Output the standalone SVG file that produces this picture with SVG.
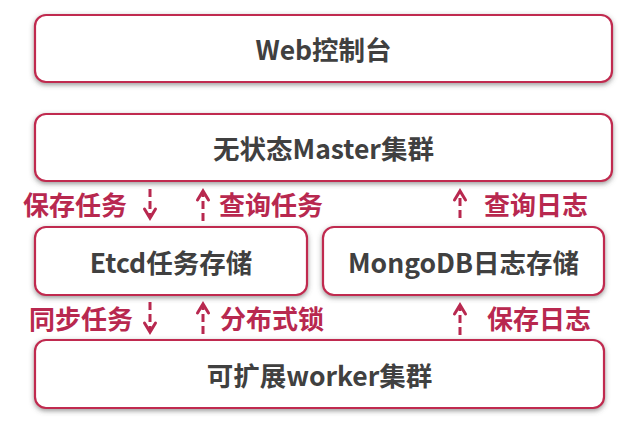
<svg xmlns="http://www.w3.org/2000/svg" width="639" height="422" viewBox="0 0 639 422">
<defs>
<filter id="sh" x="-10%" y="-30%" width="120%" height="160%">
<feDropShadow dx="0" dy="2" stdDeviation="2.5" flood-color="#555" flood-opacity="0.6"/>
</filter>
</defs>
<style>
.box{fill:#fff;stroke:#c0294f;stroke-width:2.2;filter:url(#sh)}
.t{font-family:"Noto Sans CJK SC","Noto Sans",sans-serif;font-weight:bold;font-size:26.5px;fill:#404040;text-anchor:middle;dominant-baseline:central}
.l{font-family:"Noto Sans CJK SC","Noto Sans",sans-serif;font-weight:bold;font-size:26px;fill:#b8284f;dominant-baseline:central}
.c{fill:none;stroke:#b8284f;stroke-width:3;stroke-dasharray:8,4}
.h{fill:none;stroke:#b8284f;stroke-width:3;stroke-linecap:round;stroke-linejoin:miter}
</style>
<rect width="639" height="422" fill="#fff"/>
<g id="web"><rect class="box" x="35" y="15" width="577" height="67" rx="11"/><text class="t" x="323.5" y="48.5">Web控制台</text></g>
<g id="master"><rect class="box" x="35" y="114" width="577" height="67" rx="11"/><text class="t" x="323.5" y="147.5">无状态Master集群</text></g>
<g id="etcd"><rect class="box" x="35" y="227" width="272" height="68" rx="11"/><text class="t" x="171" y="261">Etcd任务存储</text></g>
<g id="mongo"><rect class="box" x="323" y="227" width="281" height="68" rx="11"/><text class="t" x="463.5" y="261">MongoDB日志存储</text></g>
<g id="worker"><rect class="box" x="35" y="340" width="569" height="68" rx="11"/><text class="t" x="319.5" y="374">可扩展worker集群</text></g>
<g id="connectors">
<path class="c" d="M150,189 V217"/><polyline class="h" points="144.5,209 150,218 155.5,209"/>
<path class="c" d="M203,221 V193"/><polyline class="h" points="197.5,200 203,191 208.5,200"/>
<path class="c" d="M460,218 V193"/><polyline class="h" points="454.5,200 460,191 465.5,200"/>
<path class="c" d="M150,302 V331"/><polyline class="h" points="144.5,323 150,332 155.5,323"/>
<path class="c" d="M203,334 V306"/><polyline class="h" points="197.5,313 203,304 208.5,313"/>
<path class="c" d="M460,335 V307"/><polyline class="h" points="454.5,314 460,305 465.5,314"/>
<text class="l" x="23" y="203">保存任务</text>
<text class="l" x="219" y="203">查询任务</text>
<text class="l" x="484" y="203">查询日志</text>
<text class="l" x="29" y="317">同步任务</text>
<text class="l" x="220" y="317">分布式锁</text>
<text class="l" x="487" y="317">保存日志</text>
</g>
</svg>
